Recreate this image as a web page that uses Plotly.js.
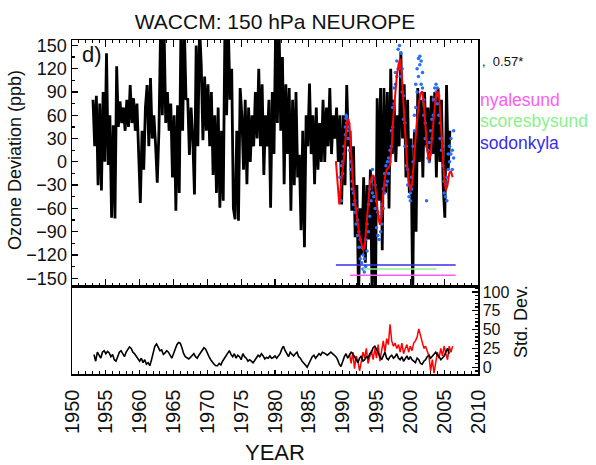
<!DOCTYPE html>
<html><head><meta charset="utf-8">
<script src="https://cdn.plot.ly/plotly-3.0.1.min.js"></script>
<style>body{margin:0;background:#fff}#plot{width:596px;height:465px}</style>
</head><body><div id="plot"></div>
<script>
// ---- Data ----
// WACCM model ozone deviation (ppb), quarterly from 1953.1
const modelStart = 1953.1;
const modelStep = 0.25;
const modelOzone = [
 80,20,85,-30, 75,-37,90,0, 140,-4,60,-72, 47,-73,123,45, 78,50,70,40,
 80,45,99,50, 82,40,75,10, -53,40,-10,70, 99,20,108,30, 60,22,-27,40,
 175,60,175,50, 90,40,75,-20, 60,-63,73,-40, 175,40,175,80, 82,9,70,30,
 -42,150,20,175, 125,28,110,40, 100,20,90,-17, 60,-40,70,-59, 40,-50,175,60,
 175,80,120,-60, -74,40,-76,95, 60,-10,80,-29, 70,0,60,20, 90,30,120,20,
 100,-17,60,20, 80,-59,90,10, 175,50,175,40, 135,-29,100,10, 95,-63,80,-30,
 90,-20,9,-88, 40,-110,60,20, 101,10,60,-29, 70,-10,50,0, 80,0,70,20,
 95,10,60,30, 70,0,60,-55, 60,-30,99,20, 40,-63,20,-97, -30,-175,-60,-120,
 -20,-130,-30,-100, -10,-175,-20,-175, 82,-50,95,-114, 95,-40,90,-60, 120,10,80,0,
 60,20,142,30, 100,-20,80,-40, 30,-175,40,-90, 95,0,80,-20, 90,20,70,0,
 85,10,90,-20, 95,0,80,-30, -72,99,-10,40
];
// Observations (red, smoothed), quarterly from 1989.0
const obsStart = 1989.0;
const obsStep = 0.25;
const obsOzone = [
 1,-30,-55,-30, -12,10,40,56, 50,10,-25,-46, -60,-80,-95,-105,
 -114,-110,-80,-50, -30,-20,-17,-25, -50,-70,-81,-70, -40,-20,-10,-8,
 -4,20,60,90, 110,125,133,110, 70,31,0,-25, -37,-30,0,31,
 55,75,88,91, 75,45,15,1, 10,35,65,85, 91,85,50,10,
 -20,-37,-30,-15, -12,-20
];
// Individual soundings (blue dots)
const sondeYears = [
 1989.6,1989.6,1989.8,1989.8,1990.0,1990.0,1990.2,1990.2,1990.4,1990.4,1990.5,1990.5,1990.6,1990.6,1990.7,1990.7,1990.8,1990.8,
 1991.0,1991.0,1991.2,1991.2,1991.4,1991.4,1991.6,1991.6,1991.8,1991.8,1992.0,1992.0,1992.2,1992.2,1992.4,1992.4,1992.6,1992.6,
 1992.8,1992.8,1993.0,1993.0,1993.2,1993.2,1993.4,1993.4,1993.6,1993.6,1993.8,1993.8,1994.0,1994.0,1994.2,1994.2,1994.4,1994.4,
 1994.6,1994.6,1994.8,1994.8,1995.0,1995.0,1995.2,1995.2,1995.4,1995.4,1995.6,1995.6,1995.8,1995.8,1996.0,1996.0,1996.2,1996.2,
 1996.4,1996.4,1996.6,1996.6,1996.8,1996.8,1997.0,1997.0,1997.2,1997.2,1997.4,1997.4,1997.6,1997.6,1997.8,1997.8,1998.0,1998.0,
 1998.2,1998.2,1998.4,1998.4,1998.6,1998.6,1998.8,1998.8,1999.0,1999.0,1999.2,1999.2,1999.4,1999.4,1999.6,1999.6,1999.8,1999.8,
 2000.0,2000.0,2000.2,2000.2,2000.4,2000.4,2000.6,2000.6,2000.8,2000.8,2001.0,2001.0,2001.2,2001.2,2001.4,2001.4,2001.6,2001.6,
 2001.8,2001.8,2002.0,2002.0,2002.2,2002.2,2002.4,2002.4,2002.6,2002.6,2002.8,2002.8,2003.0,2003.0,2003.2,2003.2,2003.4,2003.4,
 2003.6,2003.6,2003.8,2003.8,2004.0,2004.0,2004.2,2004.2,2004.4,2004.4,2004.6,2004.6,2004.8,2004.8,2005.0,2005.0,2005.2,2005.2,
 2005.4,2005.4,2005.6,2005.6,2005.8,2005.8,2006.0,2006.0,2006.2,2006.2,2006.4,2006.4
];
const sondeOzone = [
 -40,-20,-50,-5,-15,0,10,20,35,45,56,60,58,50,55,40,45,30,
 30,15,0,-10,-25,-35,-40,-55,-50,-65,-60,-80,-75,-95,-90,-110,-100,-125,
 -110,-130,-120,-138,-125,-142,-100,-135,-80,-115,-55,-90,-35,-70,-25,-50,-10,-40,
 -20,-45,-30,-60,-50,-85,-65,-95,-75,-100,-70,-90,-55,-80,-35,-60,-15,-40,
 -5,-30,0,-25,5,-15,15,0,40,20,70,45,95,75,115,100,130,110,
 145,120,150,125,140,110,120,90,85,55,50,20,20,-5,-10,-30,-30,-45,
 -40,-50,-35,-20,0,20,40,60,70,100,90,120,110,133,125,136,100,130,
 95,115,80,60,50,30,20,-50,5,15,0,25,10,40,30,55,60,80,
 80,95,90,100,95,75,85,60,50,30,15,30,-5,20,-25,-40,-45,-30,
 -50,-20,-10,10,0,20,30,10,15,-10,5,40
];
// Station reference lines
const stationNames = ["nyalesund", "scoresbysund", "sodonkyla"];
const stationColors = ["#ff5cf0", "#8cf08c", "#3a2de6"];
const stationLineStart = [1991.1, 1993.0, 1989.0];
const stationLineEnd = [2006.7, 2003.9, 2006.7];
const stationLineLevel = [-146, -138, -133];
// Std. dev. panel
const sdModelStart = 1953.25;
const sdModelStep = 0.25;
const sdModel = [
 17,8,20,15, 12,20,22,18, 21,19,14,17, 10,8,15,20, 22,18,14,20,
 24,27,25,20, 18,14,10,8, 12,6,10,4, 6,2,10,20, 28,31,26,22,
 23,17,19,22, 20,16,12,18, 25,30,33,32, 26,18,14,12, 11,13,16,18,
 14,12,16,20, 22,26,24,18, 14,10,6,4, 2,2,5,3, 8,12,16,19,
 22,17,14,18, 12,16,14,10, 18,14,12,8, 10,8,6,9, 12,16,14,18,
 15,11,13,12, 15,12,13,15, 12,15,18,24, 28,22,18,14, 20,17,15,18,
 20,14,12,8, 6,3,0,5, 10,14,16,12, 15,18,16,20, 19,17,16,18,
 20,18,16,14, 10,4,1,8, 14,18,12,16, 20,18,14,10, 6,12,15,8,
 10,14,12,18, 20,26,28,24, 18,14,10,16, 20,12,10,14, 16,12,14,18,
 12,10,14,8, 12,15,10,14, 10,8,6,12, 10,5,4,8, 10,14,16,12,
 15,18,20,16, 14,10,12,15, 20,25,18
];
const sdObsStart = 1991.0;
const sdObsStep = 0.25;
const sdObs = [
 18,5,20,-2, 15,8,-5,10, 20,12,25,5, 15,22,10,25, 12,30,8,22,
 35,20,38,30, 57,35,28,32, 25,30,20,32, 18,25,30,20, 28,22,32,35,
 40,51,42,30, 25,28,20,15, -5,10,-8,5, 20,12,25,15, 28,18,10,28,
 20,28
];
const yearTicks = [1950,1955,1960,1965,1970,1975,1980,1985,1990,1995,2000,2005,2010];

// ---- Build traces ----
const timeAxis = (start, step, n) => Array.from({length: n}, (_, i) => +(start + i * step).toFixed(3));
const FONT = "Liberation Sans, Arial, sans-serif";
const traces = [];
traces.push({x: timeAxis(modelStart, modelStep, modelOzone.length), y: modelOzone, type: "scatter", mode: "lines",
  line: {color: "#000", width: 2.8}, xaxis: "x", yaxis: "y", hoverinfo: "skip"});
traces.push({x: sondeYears, y: sondeOzone, type: "scatter", mode: "markers",
  marker: {color: "rgb(40,110,255)", size: 3.5}, xaxis: "x", yaxis: "y", cliponaxis: true});
traces.push({x: timeAxis(obsStart, obsStep, obsOzone.length), y: obsOzone, type: "scatter", mode: "lines",
  line: {color: "#ff0000", width: 2}, xaxis: "x", yaxis: "y"});
for (let i = 0; i < stationNames.length; i++) {
  traces.push({x: [stationLineStart[i], stationLineEnd[i]], y: [stationLineLevel[i], stationLineLevel[i]],
    type: "scatter", mode: "lines", line: {color: stationColors[i], width: 1.5}, xaxis: "x", yaxis: "y"});
}
traces.push({x: timeAxis(sdObsStart, sdObsStep, sdObs.length), y: sdObs, type: "scatter", mode: "lines",
  line: {color: "#ff0000", width: 1.5}, xaxis: "x2", yaxis: "y2"});
traces.push({x: timeAxis(sdModelStart, sdModelStep, sdModel.length), y: sdModel, type: "scatter", mode: "lines",
  line: {color: "#000", width: 1.6}, xaxis: "x2", yaxis: "y2"});

const L = 72, R = 478, T = 40, B = 374, W = 596, H = 465;
const px = v => (v - L) / (R - L);
const py = v => (B - v) / (B - T);
const split = py(286);

const baseX = {range: [1950, 2010], showgrid: false, zeroline: false, showline: true, linecolor: "#000", linewidth: 1.5,
  ticks: "inside", tickcolor: "#000", tickwidth: 1.3, tickmode: "array", tickvals: yearTicks,
  minor: {ticks: "inside", dtick: 1, tick0: 1950, ticklen: 3, tickcolor: "#000", tickwidth: 1}};

const anns = [
  {text: "d)", x: px(80), y: py(55), xanchor: "left", yanchor: "middle", font: {size: 22, color: "#111", family: FONT}},
  {text: ",  0.57*", x: px(480), y: py(61), xanchor: "left", yanchor: "middle", font: {size: 13, color: "#111", family: FONT}},
  {text: "Ozone Deviation (ppb)", x: px(15), y: py(160), textangle: -90, xanchor: "center", yanchor: "middle", font: {size: 18, color: "#111", family: FONT}},
  {text: "Std. Dev.", x: px(521), y: py(322), textangle: -90, xanchor: "center", yanchor: "middle", font: {size: 18, color: "#111", family: FONT}},
  {text: "YEAR", x: px(275), y: py(452), xanchor: "center", yanchor: "middle", font: {size: 22, color: "#111", family: FONT}}
];
const labelY = [100, 121, 143];
for (let i = 0; i < stationNames.length; i++) {
  anns.push({text: stationNames[i], x: px(478), y: py(labelY[i]), xanchor: "left", yanchor: "middle",
    font: {size: 17.5, color: stationColors[i], family: FONT}});
}
anns.forEach(a => { a.xref = "paper"; a.yref = "paper"; a.showarrow = false; });

const layout = {
  width: W, height: H, margin: {l: L, r: W - R, t: T, b: H - B}, showlegend: false,
  paper_bgcolor: "#fff", plot_bgcolor: "#fff",
  title: {text: "WACCM: 150 hPa NEUROPE", x: 0.5, xref: "paper", xanchor: "center", y: 1 - 22 / H, yanchor: "middle",
    font: {size: 21, color: "#111", family: FONT}},
  xaxis: Object.assign({}, baseX, {anchor: "y", showticklabels: false, ticklen: 7, mirror: "ticks"}),
  yaxis: {domain: [split, 1], anchor: "x", range: [-160, 157], tickmode: "linear", tick0: 0, dtick: 30,
    ticks: "inside", ticklen: 6, tickwidth: 1.3, tickcolor: "#000",
    minor: {ticks: "inside", dtick: 15, ticklen: 3, tickcolor: "#000"},
    showline: true, linecolor: "#000", linewidth: 1.5, mirror: true, showgrid: false, zeroline: false,
    tickfont: {size: 18, color: "#111", family: FONT}},
  xaxis2: Object.assign({}, baseX, {anchor: "y2", ticklen: 4, mirror: true, tickangle: -90, ticklabelstandoff: 6,
    tickfont: {size: 20, color: "#111", family: FONT}}),
  yaxis2: {domain: [0, split], anchor: "x2", side: "right", range: [-9, 108], tickmode: "linear", tick0: 0, dtick: 25,
    ticks: "inside", ticklen: 6, tickwidth: 1.3, tickcolor: "#000",
    minor: {ticks: "inside", dtick: 5, ticklen: 3, tickcolor: "#000"},
    showline: true, linecolor: "#000", linewidth: 1.5, mirror: true, showgrid: false, zeroline: false,
    tickfont: {size: 16, color: "#111", family: FONT}},
  annotations: anns
};
Plotly.newPlot("plot", traces, layout, {staticPlot: true, displayModeBar: false});
</script></body></html>
